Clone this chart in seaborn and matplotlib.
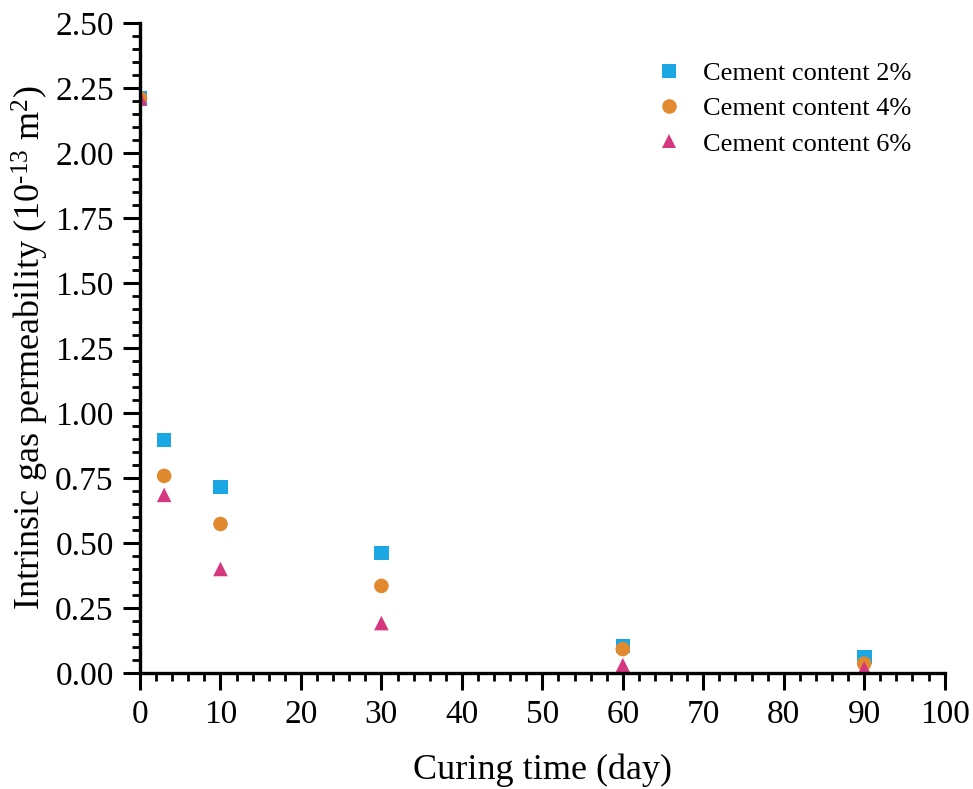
import matplotlib.pyplot as plt
import pandas as pd
import seaborn as sns

curing_days = [0, 3, 10, 30, 60, 90]
cement_2 = [2.21, 0.896, 0.715, 0.462, 0.104, 0.062]
cement_4 = [2.21, 0.758, 0.573, 0.335, 0.092, 0.036]
cement_6 = [2.21, 0.685, 0.400, 0.192, 0.030, 0.018]
labels = ["Cement content 2%", "Cement content 4%", "Cement content 6%"]

rows = []
for label, vals in zip(labels, [cement_2, cement_4, cement_6]):
    for d, v in zip(curing_days, vals):
        rows.append({"day": d, "perm": v, "series": label})
df = pd.DataFrame(rows)

sns.set_style("ticks")
plt.rcParams["font.family"] = ["Liberation Serif", "DejaVu Serif"]
plt.rcParams["mathtext.fontset"] = "custom"
plt.rcParams["mathtext.rm"] = "Liberation Serif"
plt.rcParams["mathtext.it"] = "Liberation Serif:italic"
plt.rcParams["text.color"] = "black"
plt.rcParams["axes.labelcolor"] = "black"
plt.rcParams["axes.edgecolor"] = "black"

palette = {labels[0]: "#1aa7e3", labels[1]: "#e0892f", labels[2]: "#d6387f"}
markers = {labels[0]: "s", labels[1]: "o", labels[2]: "^"}

fig = plt.figure(figsize=(9.73, 7.89), dpi=100)
ax = fig.add_axes([0.1439, 0.147, 0.827, 0.824])
sns.scatterplot(data=df, x="day", y="perm", hue="series", style="series",
                palette=palette, markers=markers, s=110, linewidth=0, ax=ax)

ax.set_xlim(0, 100)
ax.set_ylim(0, 2.5)
ax.set_xticks(range(0, 101, 10))
ax.set_yticks([i * 0.25 for i in range(11)])
ax.set_yticklabels([f"{i * 0.25:.2f}" for i in range(11)])
ax.xaxis.set_minor_locator(plt.MultipleLocator(2))
ax.yaxis.set_minor_locator(plt.MultipleLocator(0.05))
ax.tick_params(which="major", direction="out", length=12, width=2.2, labelsize=24,
               colors="black", pad=7)
ax.tick_params(which="minor", direction="out", length=6, width=2.0, colors="black")
for s in ["left", "bottom"]:
    ax.spines[s].set_linewidth(2.4)
sns.despine(ax=ax)

ax.set_xlabel("Curing time (day)", fontsize=26, labelpad=17)
ax.set_ylabel(r"Intrinsic gas permeability (10$^{\text{-13}}$ m$^{2}$)", fontsize=26, labelpad=3)

ax.legend(title=None, frameon=False, loc="upper right", bbox_to_anchor=(0.937, 0.922),
          bbox_transform=fig.transFigure, borderaxespad=0, borderpad=0,
          fontsize=19, handletextpad=0.3, labelspacing=0.45, markerscale=1.0)

fig.savefig("out.png", dpi=100)
